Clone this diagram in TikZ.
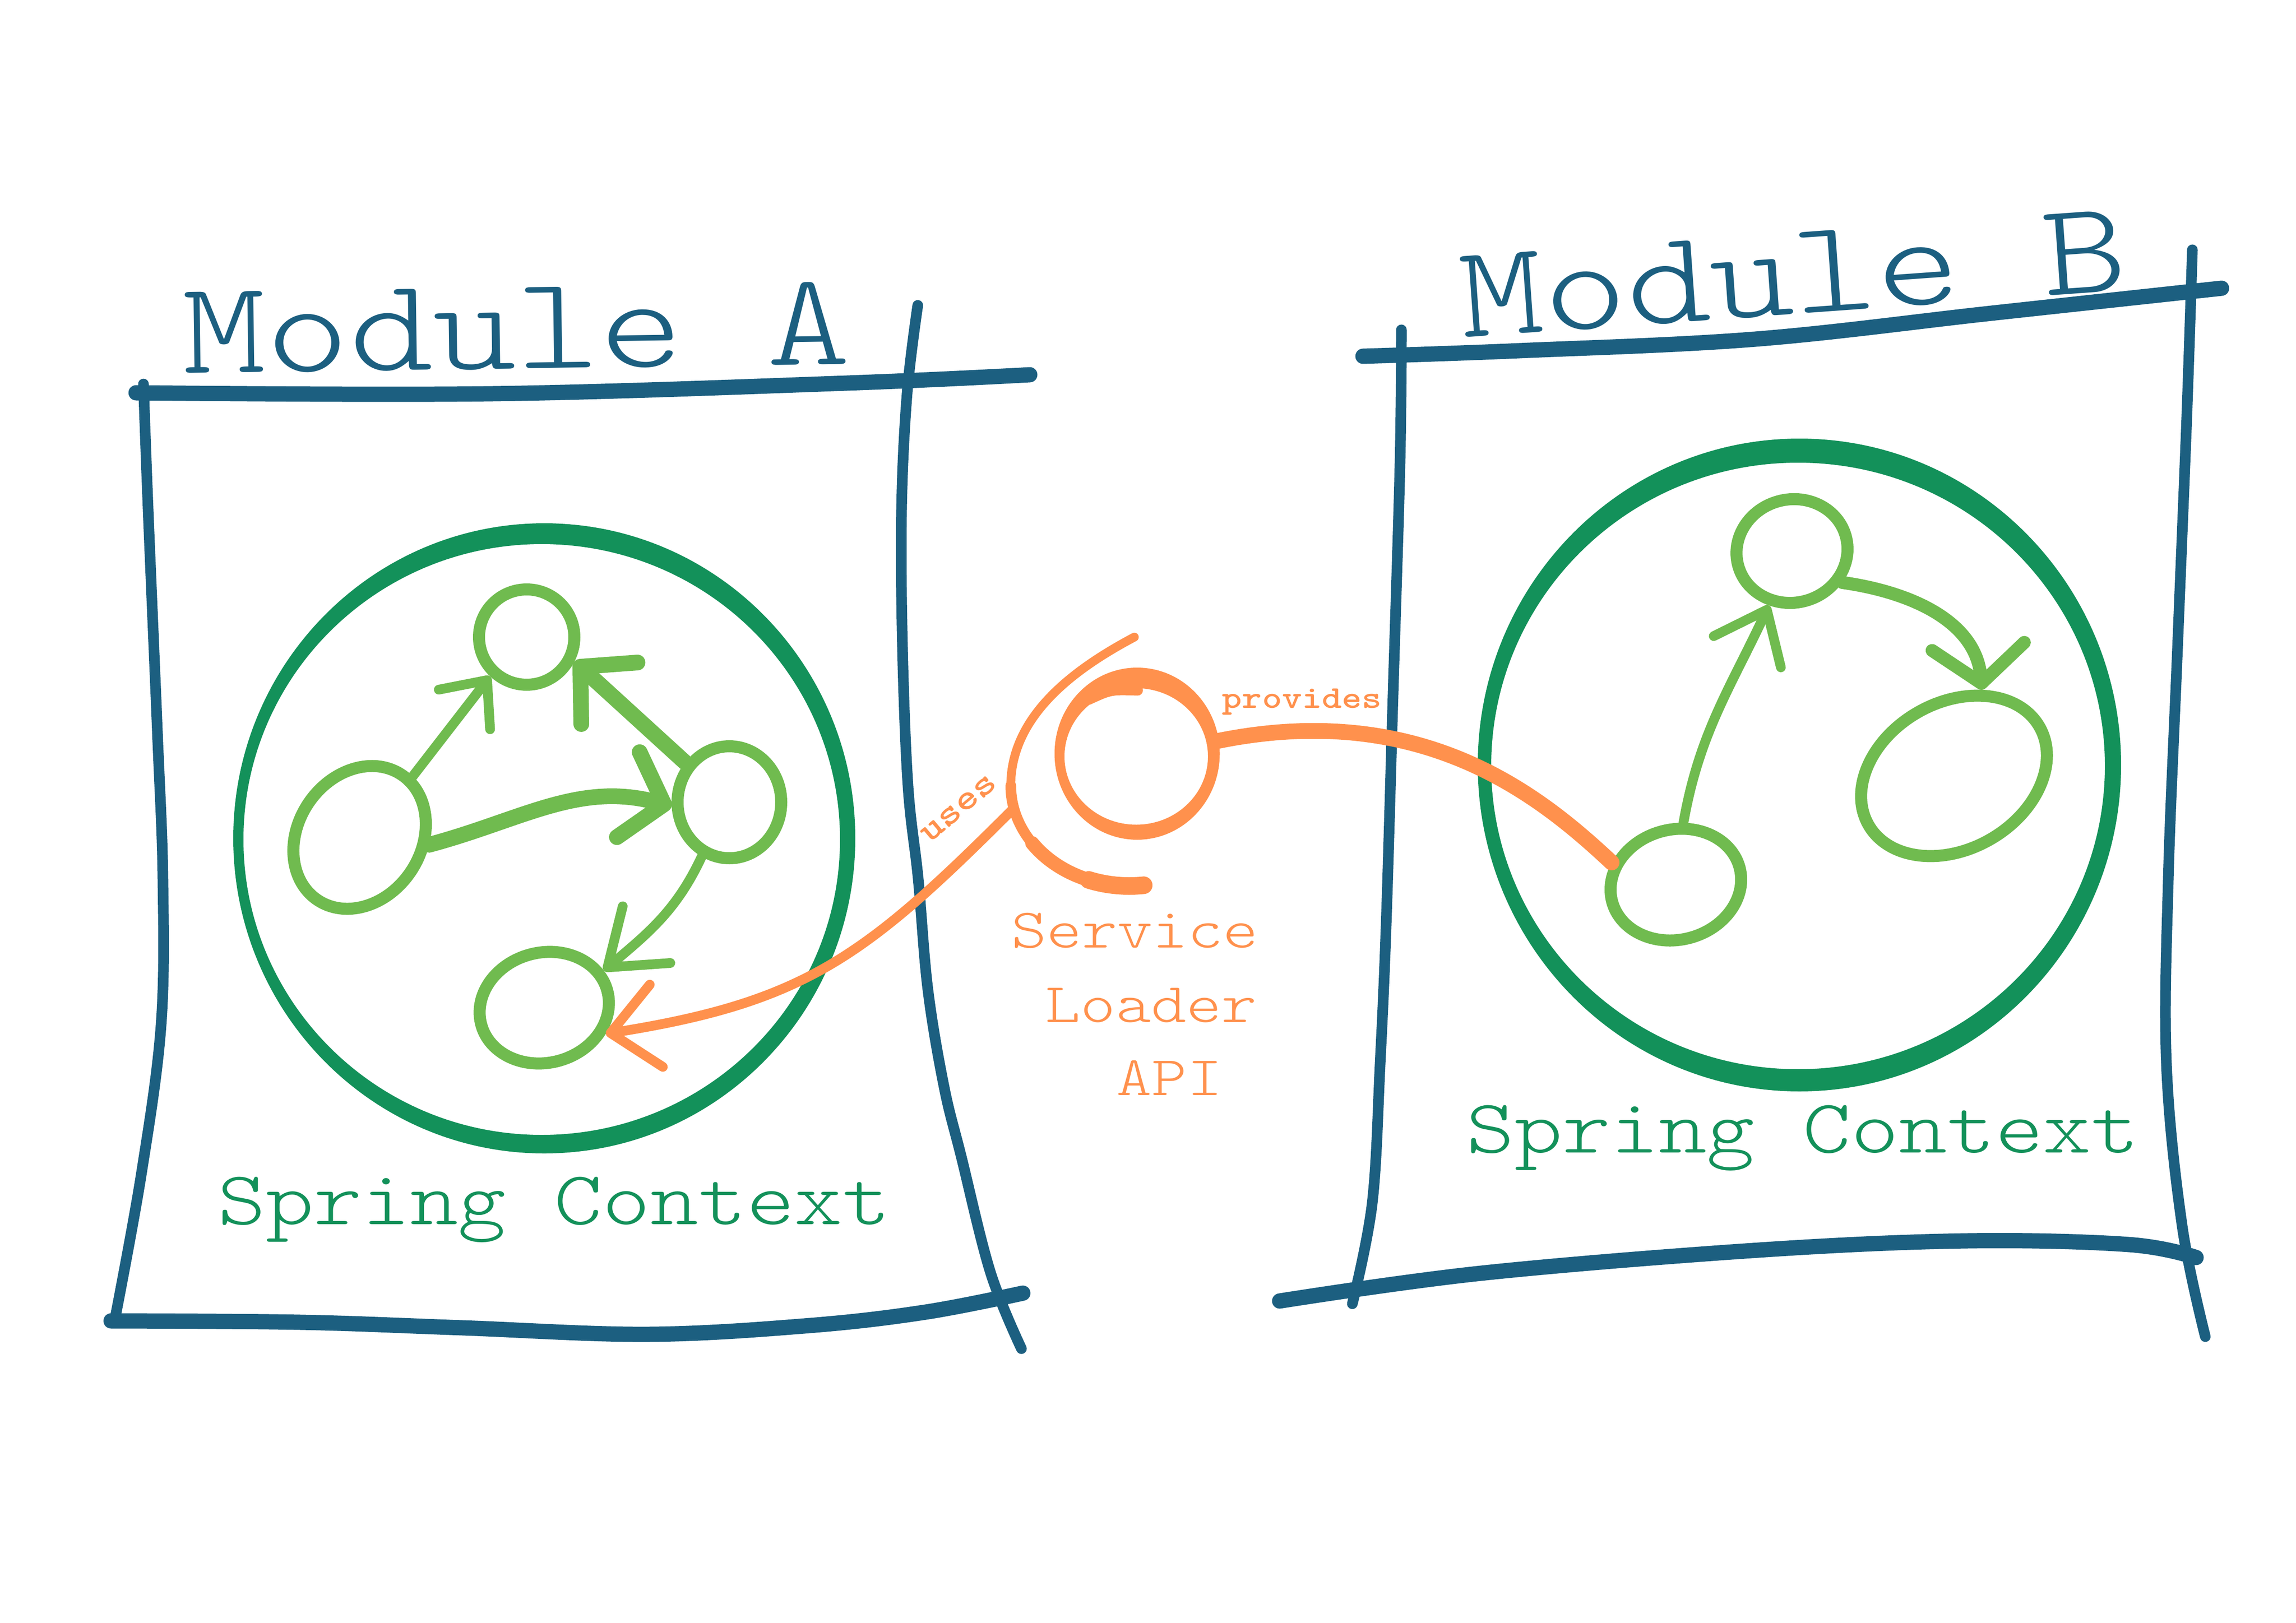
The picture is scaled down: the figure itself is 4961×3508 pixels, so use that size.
\documentclass[tikz,border=0pt]{standalone}
\usepackage{fontspec}
\usetikzlibrary{shapes.geometric,arrows.meta}
\newfontfamily\handfont[BoldFont=lmmonolt10-bold.otf,FakeStretch=1.2]{lmmonolt10-regular.otf}
\definecolor{mblue}{HTML}{1C5F80}
\definecolor{dgreen}{HTML}{13915A}
\definecolor{lgreen}{HTML}{70BB4F}
\definecolor{sorange}{HTML}{FF914D}
\tikzset{
  framethin/.style={draw=mblue,line width=2.3mm,line cap=round,line join=round},
  framethick/.style={draw=mblue,line width=3.3mm,line cap=round,line join=round},
  gnode/.style={ellipse,draw=lgreen,line width=2.6mm,inner sep=0pt,minimum width=#1},
  gedge/.style={draw=lgreen,line cap=round,line join=round},
  oline/.style={draw=sorange,line cap=round,line join=round},
  carclow/.style={x radius=25.6mm,y radius=21.7mm},
  mtitle/.style={text=mblue,inner sep=0pt,font=\handfont\fontsize{81.4pt}{90pt}\selectfont},
  ctext/.style={text=dgreen,inner sep=0pt,font=\handfont\fontsize{46.9pt}{52pt}\selectfont},
  stext/.style={text=sorange,inner sep=0pt,font=\handfont\fontsize{34.4pt}{40pt}\selectfont},
  ltext/.style={text=sorange,inner sep=0pt,font=\handfont\bfseries\fontsize{19.5pt}{22pt}\selectfont},
}
\begin{document}
\begin{tikzpicture}[x=0.1mm,y=-0.1mm]
\useasboundingbox (0,0) rectangle (4961,3508);
\fill[white] (0,0) rectangle (4961,3508);

% ---- Module A frame
\draw[framethin] plot[smooth,tension=0.6] coordinates {(310,830) (320,1100) (340,1580) (352,1900) (348,2216) (305,2540) (247,2858)};
\draw[framethin] plot[smooth,tension=0.6] coordinates {(1983,660) (1960,850) (1948,1100) (1950,1400) (1962,1700) (1984,1900) (2005,2140) (2040,2350) (2077,2500) (2140,2750) (2207,2915)};
\draw[framethick] plot[smooth,tension=0.6] coordinates {(294,849) (1065,851) (1830,828) (2225,810)};
\draw[framethick] plot[smooth,tension=0.6] coordinates {(240,2855) (650,2858) (1000,2870) (1400,2884) (1750,2865) (2000,2836) (2210,2795)};

% ---- Module B frame
\draw[framethin] plot[smooth,tension=0.6] coordinates {(3028,713) (3025,1000) (3010,1500) (2995,2000) (2982,2300) (2965,2600) (2922,2818)};
\draw[framethin] plot[smooth,tension=0.6] coordinates {(4737,540) (4725,900) (4705,1400) (4685,1900) (4681,2300) (4715,2650) (4765,2889)};
\draw[framethick] plot[smooth,tension=0.6] coordinates {(2945,770) (3283,758) (3793,733) (4303,677) (4800,623)};
\draw[framethick] plot[smooth,tension=0.6] coordinates {(2765,2812) (3200,2752) (3800,2702) (4250,2682) (4600,2690) (4745,2718)};

% ---- Spring context circles
\fill[dgreen,even odd rule] (1176,1812) ellipse [x radius=67.2mm,y radius=68.1mm]
      (1170.5,1814.5) ellipse [x radius=64.45mm,y radius=63.85mm];
\fill[dgreen,even odd rule] (3888,1653.5) ellipse [x radius=69.5mm,y radius=70.55mm]
      (3885,1655.5) ellipse [x radius=66.3mm,y radius=65.55mm];

% ---- Graph nodes A
\node[gnode=20.6mm,minimum height=20.6mm] (a1) at (1138,1377) {};
\node[gnode=32.6mm,minimum height=26.6mm,rotate=56] (a2) at (777,1810) {};
\node[gnode=22.4mm,minimum height=24.2mm] (a3) at (1576,1734) {};
\node[gnode=28.2mm,minimum height=23.8mm,rotate=15] (a4) at (1176,2178) {};
% ---- Graph nodes B
\node[gnode=24.1mm,minimum height=22.3mm,rotate=15] (b1) at (3872,1191) {};
\node[gnode=42.6mm,minimum height=31.6mm,rotate=30] (b2) at (4222,1677) {};
\node[gnode=28.5mm,minimum height=23.8mm,rotate=15] (b3) at (3621,1912) {};

% ---- Edges A
\draw[gedge,line width=2.1mm,-{Straight Barb[length=8mm,width=14mm,round]}] (a2.-7) -- (a1.227);
\draw[gedge,line width=3.4mm,-{Straight Barb[length=8.5mm,width=18mm,round]}] (a3.138) -- (a1.-27);
\draw[gedge,line width=3.4mm,-{Straight Barb[length=8mm,width=19mm,round]}] (a2.-62) to[out=15,in=165] (a3.184);
\draw[gedge,line width=2.1mm,-{Straight Barb[length=11mm,width=16mm,round]}] (a3.243) to[out=-115,in=40] (a4.17);
% ---- Edges B
\draw[gedge,line width=2.1mm,-{Straight Barb[length=10mm,width=16mm,round]}] (b3.68) to[out=80,in=-115] (b1.-128);
\draw[gedge,line width=2.8mm,-{Straight Barb[length=8mm,width=20mm,round]}] (b1.-47) to[out=-8,in=95] (b2.42);

% ---- Service loader: open C arc (tapering) and inner loop
\coordinate (cc) at (2440,1698);
\draw[oline,line width=1.9mm] (2451,1377) .. controls (2319,1447) and (2184,1548) .. (2184,1698);
\draw[oline,line width=2.3mm] (2184,1698) arc[start angle=180,end angle=215,carclow];
\draw[oline,line width=3mm] ([shift={(215:25.6mm and 21.7mm)}]cc) arc[start angle=215,end angle=250,carclow];
\draw[oline,line width=3.8mm] ([shift={(250:25.6mm and 21.7mm)}]cc) arc[start angle=250,end angle=277,carclow];
\coordinate (cl) at ([shift={(193:25.6mm and 21.7mm)}]cc);
\node[ellipse,inner sep=0pt,outer sep=0pt,minimum width=35.7mm,minimum height=37.2mm] (sl) at (2457,1629) {};
\fill[sorange,even odd rule] (2457,1629) ellipse [x radius=17.85mm,y radius=18.6mm]
      (2455,1635) ellipse [x radius=15.5mm,y radius=14.75mm];
\draw[oline,line width=2.3mm] (2352,1512) .. controls (2400,1490) .. (2458,1492);
\draw[oline,line width=3.4mm] (sl.9) .. controls (3076,1512) and (3330,1722) .. (b3.146);
\draw[oline,line width=2.1mm,-{Straight Barb[length=10mm,width=18mm,round]}] (cl) .. controls (1869,2069) and (1740,2166) .. (a4.-38);

% ---- Texts
\node[mtitle,anchor=base west,rotate=0.8] (ta) at (395,807) {Module A};
\node[mtitle,anchor=base west,rotate=4.1] (tb) at (3160,730) {Module B};
\node[ctext,anchor=base west] (ca) at (470,2646) {Spring Context};
\node[ctext,anchor=base west] (cb) at (3168,2491) {Spring Context};
\node[stext,anchor=base west] (s1) at (2185,2048) {Service};
\node[stext,anchor=base west] (s2) at (2258,2209) {Loader};
\node[stext,anchor=base west] (s3) at (2412,2367) {API};
\node[ltext,anchor=base west] (lp) at (2640,1530) {provides};
\node[ltext,font=\handfont\bfseries\fontsize{22pt}{24pt}\selectfont,rotate=40] (lu) at (2072,1748) {uses};
\end{tikzpicture}
\end{document}
